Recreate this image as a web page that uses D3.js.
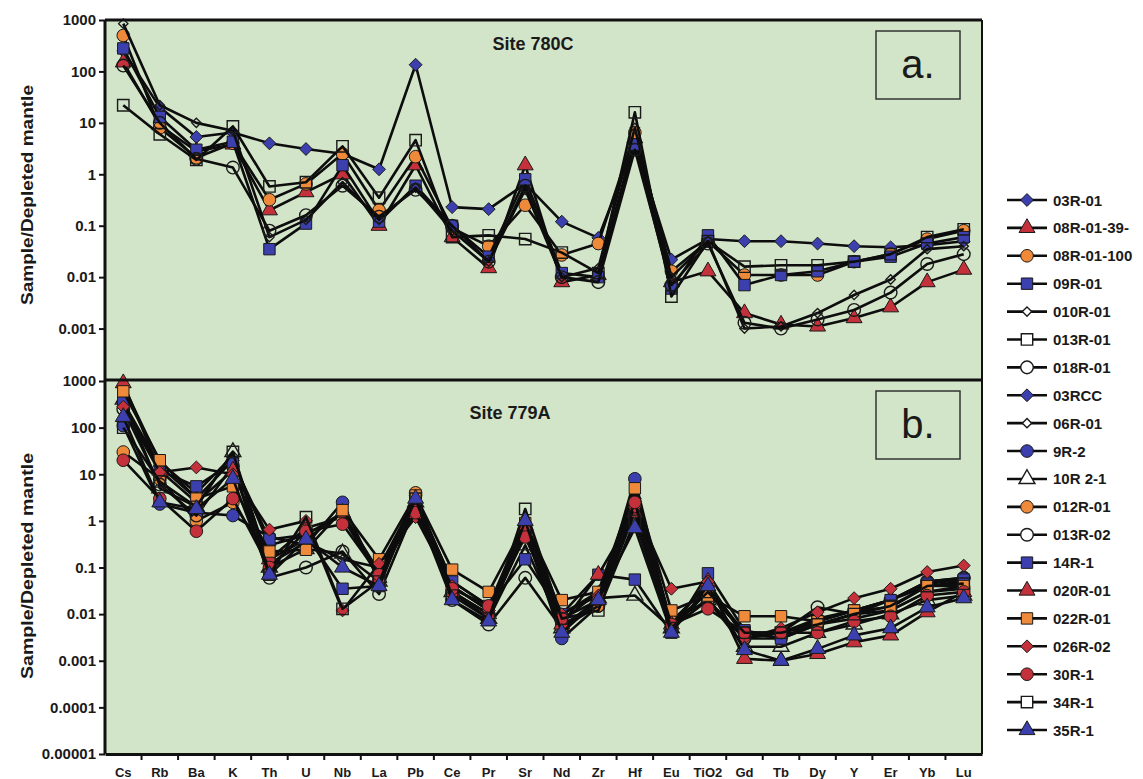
<!DOCTYPE html>
<html lang="en">
<head>
  <meta charset="UTF-8">
  <title>Spider diagram: Sites 780C and 779A</title>
  <script src="https://d3js.org/d3.v7.min.js"></script>
  <style>
    body { margin: 0; background: #ffffff; }
    text { font-family: "Liberation Sans", Arial, sans-serif; }
    .tick-label { font-weight: bold; font-size: 15px; fill: #1a1a1a; }
    .cat-label { font-weight: bold; font-size: 13px; fill: #1a1a1a; }
    .legend-label { font-weight: bold; font-size: 15px; fill: #1a1a1a; }
  </style>
</head>
<body>
  <div id="chart"></div>

  <script>
    // ------------------------ Data ------------------------

    const elements = ["Cs", "Rb", "Ba", "K", "Th", "U", "Nb", "La", "Pb", "Ce", "Pr", "Sr",
                      "Nd", "Zr", "Hf", "Eu", "TiO2", "Gd", "Tb", "Dy", "Y", "Er", "Yb", "Lu"];

    const topTicks = [1000, 100, 10, 1, 0.1, 0.01, 0.001];
    const bottomTicks = [1000, 100, 10, 1, 0.1, 0.01, 0.001, 0.0001, 0.00001];

    // Site 780C
    const s03R01    = [250, 20, 5.3, 6.5, 4, 3.1, 2.5, 1.25, 135, 0.23, 0.21, 0.65, 0.12, 0.058, 4, 0.022, 0.055, 0.05, 0.05, 0.045, 0.04, 0.038, 0.042, 0.05];
    const s08R0139  = [150, 9, 2.8, 3.8, 0.2, 0.45, 1.0, 0.1, 1.5, 0.06, 0.015, 1.5, 0.008, 0.011, 5, 0.008, 0.013, 0.002, 0.0012, 0.0011, 0.0016, 0.0026, 0.008, 0.014];
    const s08R01100 = [500, 8, 2.1, 4, 0.32, 0.65, 2.5, 0.2, 2.2, 0.09, 0.04, 0.25, 0.027, 0.045, 6.5, 0.013, 0.05, 0.011, 0.011, 0.011, 0.02, 0.028, 0.055, 0.08];
    const s09R01    = [280, 13, 3, 4.3, 0.035, 0.11, 1.5, 0.12, 0.6, 0.1, 0.025, 0.8, 0.012, 0.01, 3.8, 0.006, 0.065, 0.007, 0.011, 0.013, 0.02, 0.025, 0.045, 0.06];
    const s010R01   = [850, 22, 10, 7, 0.06, 0.13, 0.7, 0.13, 0.55, 0.08, 0.02, 0.5, 0.01, 0.015, 8, 0.01, 0.05, 0.001, 0.0011, 0.002, 0.0045, 0.009, 0.035, 0.04];
    const s013R01   = [22, 6, 1.9, 8.5, 0.58, 0.7, 3.5, 0.35, 4.6, 0.06, 0.065, 0.055, 0.03, 0.012, 16, 0.0042, 0.05, 0.016, 0.017, 0.017, 0.02, 0.028, 0.06, 0.085];
    const s018R01   = [130, 10, 2, 1.35, 0.08, 0.16, 0.6, 0.15, 0.5, 0.1, 0.02, 0.6, 0.01, 0.008, 3, 0.007, 0.045, 0.0013, 0.001, 0.0015, 0.0023, 0.005, 0.018, 0.028];

    // Site 779A
    const s03RCC  = [350, 15, 3, 20, 0.3, 0.5, 1.5, 0.08, 2.5, 0.04, 0.012, 0.8, 0.007, 0.03, 3, 0.007, 0.04, 0.004, 0.003, 0.006, 0.01, 0.012, 0.03, 0.04];
    const s06R01  = [800, 18, 4, 25, 0.12, 0.35, 0.15, 0.1, 3, 0.05, 0.015, 1.0, 0.01, 0.03, 4, 0.006, 0.03, 0.004, 0.004, 0.007, 0.012, 0.02, 0.04, 0.05];
    const s9R2    = [110, 2.3, 1.5, 1.3, 0.45, 0.3, 2.5, 0.05, 3.5, 0.03, 0.01, 0.6, 0.003, 0.015, 8, 0.005, 0.03, 0.004, 0.004, 0.008, 0.012, 0.02, 0.05, 0.06];
    const s10R21  = [400, 5, 2, 30, 0.1, 0.25, 0.2, 0.05, 2.5, 0.03, 0.008, 0.3, 0.005, 0.022, 0.025, 0.005, 0.02, 0.002, 0.002, 0.004, 0.006, 0.01, 0.02, 0.025];
    const s012R01 = [30, 8, 1, 2.5, 0.15, 0.7, 1.2, 0.06, 4, 0.03, 0.01, 0.5, 0.006, 0.015, 2, 0.007, 0.02, 0.003, 0.003, 0.006, 0.008, 0.012, 0.03, 0.035];
    const s013R02 = [250, 6, 1.3, 15, 0.06, 0.1, 0.22, 0.027, 2, 0.02, 0.006, 0.06, 0.005, 0.015, 1.5, 0.005, 0.02, 0.003, 0.004, 0.014, 0.01, 0.02, 0.05, 0.06];
    const s14R1   = [350, 12, 5.5, 18, 0.4, 0.5, 0.035, 0.04, 3, 0.05, 0.015, 0.15, 0.01, 0.07, 0.055, 0.004, 0.075, 0.0045, 0.003, 0.007, 0.012, 0.02, 0.045, 0.055];
    const s020R01 = [900, 12, 2.5, 12, 0.15, 0.4, 1.5, 0.06, 2, 0.03, 0.01, 0.8, 0.006, 0.07, 1.5, 0.006, 0.05, 0.0011, 0.001, 0.0014, 0.0025, 0.0035, 0.011, 0.03];
    const s022R01 = [600, 20, 3, 5.5, 0.22, 0.24, 1.7, 0.15, 3.5, 0.09, 0.03, 0.9, 0.02, 0.03, 5, 0.012, 0.025, 0.009, 0.009, 0.007, 0.012, 0.014, 0.04, 0.04];
    const s026R02 = [280, 11, 14, 10, 0.65, 1.0, 0.012, 0.12, 1.2, 0.04, 0.012, 0.7, 0.01, 0.025, 2, 0.035, 0.05, 0.003, 0.005, 0.011, 0.022, 0.035, 0.08, 0.11];
    const s30R1   = [20, 3, 0.6, 3, 0.1, 0.6, 0.85, 0.07, 1.5, 0.035, 0.015, 0.45, 0.008, 0.02, 2.5, 0.006, 0.013, 0.004, 0.004, 0.004, 0.007, 0.009, 0.025, 0.03];
    const s34R1   = [100, 7, 2, 30, 0.07, 1.2, 0.013, 0.05, 3, 0.025, 0.008, 1.8, 0.008, 0.012, 1, 0.005, 0.03, 0.004, 0.004, 0.006, 0.01, 0.015, 0.04, 0.045];
    const s35R1   = [170, 2.5, 1.8, 8, 0.07, 0.4, 0.1, 0.04, 3, 0.02, 0.007, 1.0, 0.004, 0.02, 0.7, 0.004, 0.04, 0.0017, 0.001, 0.0018, 0.0035, 0.005, 0.014, 0.022];

    const topSeries = [
      { name: "03R-01",     values: s03R01,    shape: "diamond",  fill: "blue" },
      { name: "08R-01-39-", values: s08R0139,  shape: "triangle", fill: "red" },
      { name: "08R-01-100", values: s08R01100, shape: "circle",   fill: "orange" },
      { name: "09R-01",     values: s09R01,    shape: "square",   fill: "blue" },
      { name: "010R-01",    values: s010R01,   shape: "smalldiamond", fill: "none" },
      { name: "013R-01",    values: s013R01,   shape: "square",   fill: "none" },
      { name: "018R-01",    values: s018R01,   shape: "circle",   fill: "none" }
    ];

    const bottomSeries = [
      { name: "03RCC",   values: s03RCC,  shape: "diamond",  fill: "blue" },
      { name: "06R-01",  values: s06R01,  shape: "smalldiamond", fill: "none" },
      { name: "9R-2",    values: s9R2,    shape: "circle",   fill: "blue" },
      { name: "10R 2-1", values: s10R21,  shape: "triangle", fill: "none" },
      { name: "012R-01", values: s012R01, shape: "circle",   fill: "orange" },
      { name: "013R-02", values: s013R02, shape: "circle",   fill: "none" },
      { name: "14R-1",   values: s14R1,   shape: "square",   fill: "blue" },
      { name: "020R-01", values: s020R01, shape: "triangle", fill: "red" },
      { name: "022R-01", values: s022R01, shape: "square",   fill: "orange" },
      { name: "026R-02", values: s026R02, shape: "diamond",  fill: "red" },
      { name: "30R-1",   values: s30R1,   shape: "circle",   fill: "red" },
      { name: "34R-1",   values: s34R1,   shape: "square",   fill: "none" },
      { name: "35R-1",   values: s35R1,   shape: "triangle", fill: "blue" }
    ];

    // ------------------------ Setup ------------------------

    const W = 1143, H = 779;
    const plotLeft = 105, plotRight = 982;
    const topY = [20, 380];
    const botY = [381, 754];

    const colors = { blue: "#3c3fae", red: "#c5313a", orange: "#ee8a39", none: "none" };
    const bg = "#d3e5c9";

    const shapes = {
      diamond: d3.symbol().type(d3.symbolDiamond2).size(105),
      smalldiamond: d3.symbol().type(d3.symbolDiamond2).size(55),
      triangle: d3.symbol().type(d3.symbolTriangle).size(110),
      circle: d3.symbol().type(d3.symbolCircle).size(125),
      square: d3.symbol().type(d3.symbolSquare).size(130)
    };

    const svg = d3.select("#chart").append("svg")
      .attr("width", W)
      .attr("height", H);

    const x = d3.scaleBand().domain(elements).range([plotLeft, plotRight]);
    const xc = d => x(d) + x.bandwidth() / 2;

    const yTop = d3.scaleLog().domain([0.0001, 1000]).range([topY[1], topY[0]]);
    const yBot = d3.scaleLog().domain([0.00001, 1000]).range([botY[1], botY[0]]);

    const fmt = v => v >= 1 ? String(v) : v.toFixed(Math.round(-Math.log10(v)));

    // background
    svg.append("rect")
      .attr("x", plotLeft).attr("y", topY[0])
      .attr("width", plotRight - plotLeft).attr("height", botY[1] - topY[0])
      .attr("fill", bg);

    // ------------------------ Draw Functions ------------------------

    function drawAxis(y, ticks) {
      const ax = svg.append("g")
        .attr("transform", `translate(${plotLeft},0)`)
        .call(d3.axisLeft(y).tickValues(ticks).tickFormat(fmt).tickSize(6).tickPadding(3));
      ax.select(".domain").remove();
      ax.selectAll(".tick line").attr("stroke", "#111").attr("stroke-width", 2);
      ax.selectAll(".tick text").attr("class", "tick-label").attr("font-family", null).attr("font-size", null);
    }

    function drawSeries(list, y) {
      const line = d3.line().x((d, i) => xc(elements[i])).y(d => y(d));
      list.forEach(s => {
        svg.append("path")
          .datum(s.values)
          .attr("d", line)
          .attr("fill", "none")
          .attr("stroke", "#0d0d0d")
          .attr("stroke-width", 2.6)
          .attr("stroke-linejoin", "round");

        svg.append("g").selectAll("path")
          .data(s.values)
          .join("path")
          .attr("transform", (d, i) => `translate(${xc(elements[i])},${y(d)})`)
          .attr("d", shapes[s.shape]())
          .attr("fill", colors[s.fill])
          .attr("stroke", "#1a1a1a")
          .attr("stroke-width", s.fill === "none" ? 1.4 : 1);
      });
    }

    function drawPanelText(title, tx, ty, letter, boxY) {
      svg.append("text")
        .attr("x", tx).attr("y", ty)
        .attr("text-anchor", "middle")
        .attr("font-weight", "bold")
        .attr("font-size", 18)
        .attr("fill", "#1a1a1a")
        .text(title);

      svg.append("rect")
        .attr("x", 876).attr("y", boxY)
        .attr("width", 84).attr("height", 68)
        .attr("fill", "none")
        .attr("stroke", "#333")
        .attr("stroke-width", 1.5);

      svg.append("text")
        .attr("x", 918).attr("y", boxY + 47)
        .attr("text-anchor", "middle")
        .attr("font-family", "'Open Sans', sans-serif")
        .attr("font-size", 40)
        .attr("fill", "#1a1a1a")
        .text(letter);
    }

    function drawYLabel(cy, len) {
      svg.append("text")
        .attr("transform", `translate(33,${cy}) rotate(-90)`)
        .attr("text-anchor", "middle")
        .attr("font-weight", "bold")
        .attr("font-size", 17)
        .attr("textLength", len)
        .attr("lengthAdjust", "spacingAndGlyphs")
        .attr("fill", "#1a1a1a")
        .text("Sample/Depleted mantle");
    }

    drawSeries(topSeries, yTop);
    drawSeries(bottomSeries, yBot);

    // frame lines
    const frame = svg.append("g").attr("stroke", "#111").attr("fill", "none");
    frame.append("line").attr("x1", plotLeft).attr("x2", plotRight).attr("y1", topY[0]).attr("y2", topY[0]).attr("stroke-width", 3);
    frame.append("line").attr("x1", plotLeft).attr("x2", plotRight).attr("y1", topY[1]).attr("y2", topY[1]).attr("stroke-width", 3);
    frame.append("line").attr("x1", plotLeft).attr("x2", plotLeft).attr("y1", topY[0]).attr("y2", botY[1]).attr("stroke-width", 3);
    frame.append("line").attr("x1", plotRight).attr("x2", plotRight).attr("y1", topY[0]).attr("y2", botY[1]).attr("stroke-width", 2);

    drawAxis(yTop, topTicks);
    drawAxis(yBot, bottomTicks);

    // category axis at the bottom, ticks at band boundaries
    const xAxis = svg.append("g")
      .attr("transform", `translate(0,${botY[1]})`)
      .call(d3.axisBottom(x).tickSize(0).tickPadding(14));
    xAxis.select(".domain").attr("stroke", "#111").attr("stroke-width", 3);
    xAxis.selectAll(".tick text").attr("class", "cat-label").attr("font-family", null).attr("font-size", null);
    svg.append("g").selectAll("line")
      .data(elements.slice(1))
      .join("line")
      .attr("x1", d => x(d)).attr("x2", d => x(d))
      .attr("y1", botY[1]).attr("y2", botY[1] + 6)
      .attr("stroke", "#111").attr("stroke-width", 2);

    drawPanelText("Site 780C", 533, 50, "a.", 31);
    drawPanelText("Site 779A", 510, 419, "b.", 391);
    drawYLabel(195, 220);
    drawYLabel(566, 226);

    // ------------------------ Legend ------------------------

    const legend = svg.append("g");
    const allSeries = topSeries.concat(bottomSeries);
    const legendY = d3.scalePoint().domain(allSeries.map(s => s.name)).range([200, 730]);

    allSeries.forEach(s => {
      const ly = legendY(s.name);
      legend.append("line")
        .attr("x1", 1007).attr("x2", 1047)
        .attr("y1", ly).attr("y2", ly)
        .attr("stroke", "#0d0d0d").attr("stroke-width", 2.6);
      legend.append("path")
        .attr("transform", `translate(1027,${ly})`)
        .attr("d", shapes[s.shape]())
        .attr("fill", colors[s.fill] === "none" ? "#ffffff" : colors[s.fill])
        .attr("stroke", "#1a1a1a")
        .attr("stroke-width", s.fill === "none" ? 1.4 : 1);
      legend.append("text")
        .attr("class", "legend-label")
        .attr("x", 1053).attr("y", ly + 5.5)
        .text(s.name);
    });
  </script>
</body>
</html>
